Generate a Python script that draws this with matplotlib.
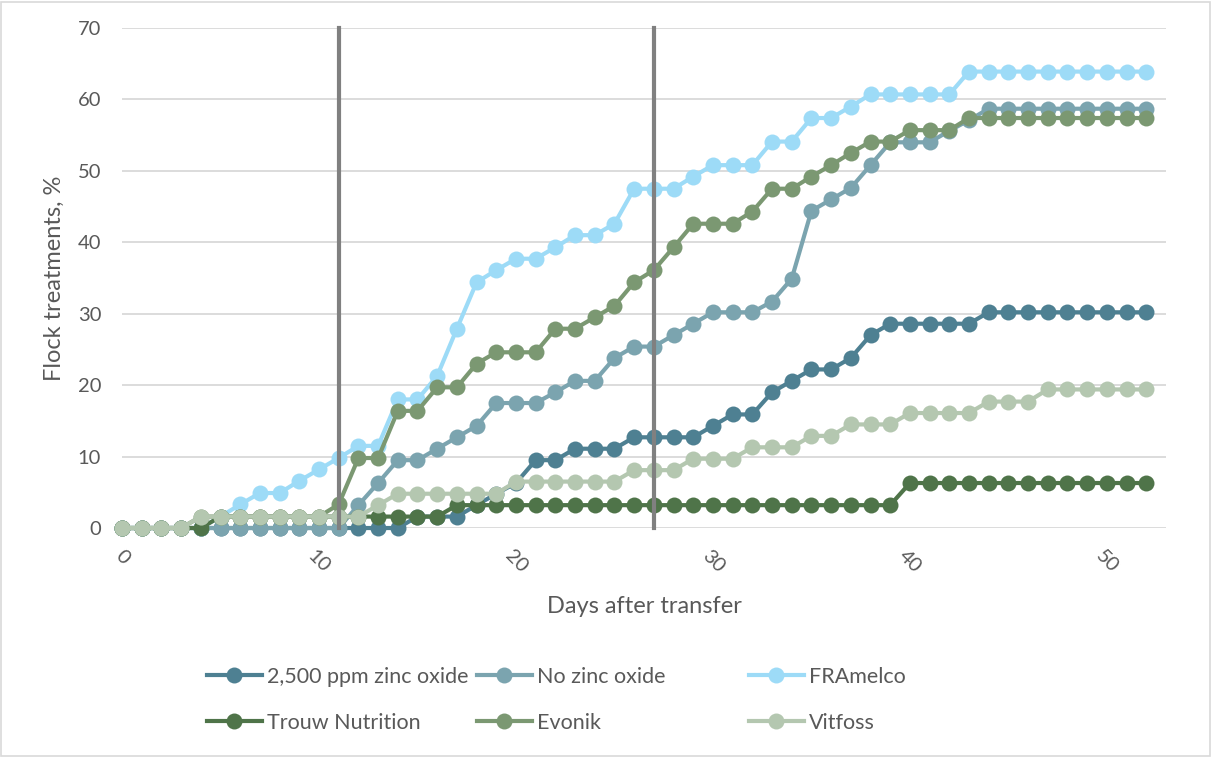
import matplotlib
matplotlib.use("Agg")
import matplotlib.pyplot as plt
from matplotlib.lines import Line2D
from matplotlib.patches import Rectangle

plt.rcParams['font.family'] = ['Lato', 'DejaVu Sans']

days = list(range(53))

zinc_2500 = [0, 0, 0, 0, 0, 0, 0, 0, 0, 0, 0, 0, 0, 0, 0, 1.6, 1.6, 1.6, 3.2, 4.8,
             6.3, 9.5, 9.5, 11.1, 11.1, 11.1, 12.7, 12.7, 12.7, 12.7, 14.3, 15.9, 15.9,
             19.0, 20.6, 22.2, 22.2, 23.8, 27.0, 28.6, 28.6, 28.6, 28.6, 28.6, 30.2, 30.2,
             30.2, 30.2, 30.2, 30.2, 30.2, 30.2, 30.2]
no_zinc = [0, 0, 0, 0, 0, 0, 0, 0, 0, 0, 0, 0, 3.2, 6.3, 9.5, 9.5, 11.1, 12.7, 14.3, 17.5,
           17.5, 17.5, 19.0, 20.6, 20.6, 23.8, 25.4, 25.4, 27.0, 28.6, 30.2, 30.2, 30.2,
           31.7, 34.9, 44.4, 46.0, 47.6, 50.8, 54.0, 54.0, 54.0, 55.6, 57.1, 58.7, 58.7,
           58.7, 58.7, 58.7, 58.7, 58.7, 58.7, 58.7]
framelco = [0, 0, 0, 0, 0, 1.6, 3.3, 4.9, 4.9, 6.6, 8.2, 9.8, 11.5, 11.5, 18.0, 18.0, 21.3,
            27.9, 34.4, 36.1, 37.7, 37.7, 39.3, 41.0, 41.0, 42.6, 47.5, 47.5, 47.5, 49.2,
            50.8, 50.8, 50.8, 54.1, 54.1, 57.4, 57.4, 59.0, 60.7, 60.7, 60.7, 60.7, 60.7,
            63.9, 63.9, 63.9, 63.9, 63.9, 63.9, 63.9, 63.9, 63.9, 63.9]
trouw = [0, 0, 0, 0, 0, 1.6, 1.6, 1.6, 1.6, 1.6, 1.6, 1.6, 1.6, 1.6, 1.6, 1.6, 1.6, 3.2,
         3.2, 3.2, 3.2, 3.2, 3.2, 3.2, 3.2, 3.2, 3.2, 3.2, 3.2, 3.2, 3.2, 3.2, 3.2, 3.2,
         3.2, 3.2, 3.2, 3.2, 3.2, 3.2, 6.3, 6.3, 6.3, 6.3, 6.3, 6.3, 6.3, 6.3, 6.3, 6.3,
         6.3, 6.3, 6.3]
evonik = [0, 0, 0, 0, 1.6, 1.6, 1.6, 1.6, 1.6, 1.6, 1.6, 3.3, 9.8, 9.8, 16.4, 16.4, 19.7,
          19.7, 23.0, 24.6, 24.6, 24.6, 27.9, 27.9, 29.5, 31.1, 34.4, 36.1, 39.3, 42.6,
          42.6, 42.6, 44.3, 47.5, 47.5, 49.2, 50.8, 52.5, 54.1, 54.1, 55.7, 55.7, 55.7,
          57.4, 57.4, 57.4, 57.4, 57.4, 57.4, 57.4, 57.4, 57.4, 57.4]
vitfoss = [0, 0, 0, 0, 1.6, 1.6, 1.6, 1.6, 1.6, 1.6, 1.6, 1.6, 1.6, 3.2, 4.8, 4.8, 4.8,
           4.8, 4.8, 4.8, 6.5, 6.5, 6.5, 6.5, 6.5, 6.5, 8.1, 8.1, 8.1, 9.7, 9.7, 9.7, 11.3,
           11.3, 11.3, 12.9, 12.9, 14.5, 14.5, 14.5, 16.1, 16.1, 16.1, 16.1, 17.7, 17.7,
           17.7, 19.4, 19.4, 19.4, 19.4, 19.4, 19.4]

series = [
    ("2,500 ppm zinc oxide", zinc_2500, "#4E8092"),
    ("No zinc oxide", no_zinc, "#7BA4AF"),
    ("FRAmelco", framelco, "#9DDBF7"),
    ("Trouw Nutrition", trouw, "#4F7449"),
    ("Evonik", evonik, "#7B9872"),
    ("Vitfoss", vitfoss, "#B4C7B0"),
]

# diet change days
change_days = [11, 27]

text_col = "#595959"
fig = plt.figure(figsize=(12.12, 7.57), dpi=100)
ax = fig.add_axes([0.1007, 0.3025, 0.8613, 0.6605])

for name, vals, col in series:
    ax.plot(days, vals, color=col, lw=3.0, marker='o', ms=11.5,
            markeredgewidth=0, label=name, clip_on=False, zorder=3)

for d in change_days:
    ax.plot([d, d], [0, 70], color="#808080", lw=3.0, zorder=4, clip_on=False)

ax.set_xlim(0, 53)
ax.set_ylim(0, 70)
ax.set_yticks(range(0, 71, 10))
ax.set_xticks(range(0, 51, 10))
ax.grid(axis='y', color="#D9D9D9", lw=1.3, zorder=0)
ax.set_axisbelow(True)
for s in ax.spines.values():
    s.set_visible(False)
ax.tick_params(length=0, labelsize=14.5, labelcolor=text_col)
ax.tick_params(axis='y', pad=15)
ax.tick_params(axis='x', pad=14)
for lab in ax.get_xticklabels():
    lab.set_rotation(-45)
    lab.set_ha('center')

ax.set_xlabel("Days after transfer", fontsize=17, color=text_col, labelpad=14)
ax.set_ylabel("Flock treatments, %", fontsize=17, color=text_col, labelpad=9)

# three fixed-width legend columns, two entries each
handles = [Line2D([], [], color=c, lw=3.0, marker='o', ms=11.5, markeredgewidth=0)
           for _, _, c in series]
names = [n for n, _, _ in series]
col_x = [207, 477, 749]
for i, x0 in enumerate(col_x):
    idx = [i, i + 3]
    leg = fig.legend([handles[j] for j in idx], [names[j] for j in idx],
                     loc='upper left', bbox_to_anchor=(x0 / 1212, 1 - 667 / 757),
                     frameon=False, fontsize=15.5, handlelength=2.55,
                     handletextpad=0.22, labelspacing=1.2, borderpad=0, borderaxespad=0)
    for t in leg.get_texts():
        t.set_color(text_col)

fig.patches.append(Rectangle((0.001, 0.001), 0.997, 0.997, transform=fig.transFigure,
                             fill=False, edgecolor="#D9D9D9", lw=1.2))

fig.savefig("out.png", dpi=100)
